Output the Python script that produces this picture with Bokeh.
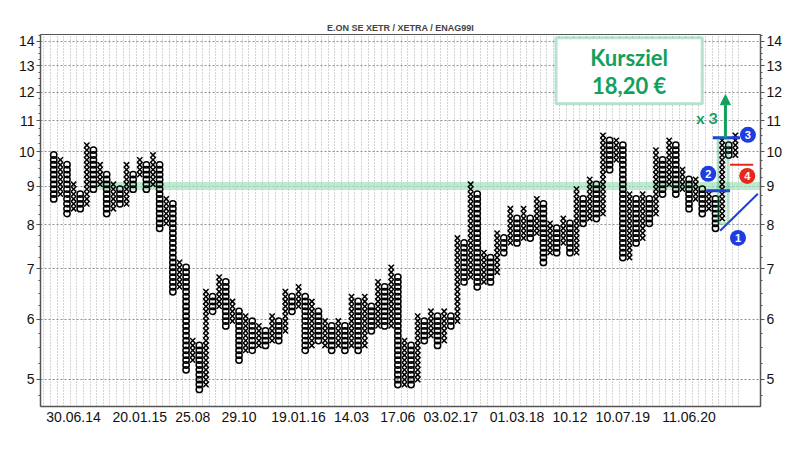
import math
from bokeh.plotting import figure
from bokeh.models import (Range1d, FixedTicker, LogAxis, BasicTickFormatter,
                          BoxAnnotation, Label, Arrow, NormalHead)
from bokeh.core.properties import value
from bokeh.embed import file_html
from bokeh.resources import INLINE

# point & figure columns (box 1.5 %)
col_kind = ["O", "X"] * 52
col_high = [9.93, 9.76, 9.58, 9.01, 8.83, 10.18, 10.03, 9.58, 9.34, 9.00,
            8.97, 9.58, 9.34, 9.76, 9.61, 9.83, 9.63, 8.70, 8.48, 7.14,
            6.99, 5.62, 5.51, 6.54, 6.41, 6.81, 6.68, 6.29, 6.19, 6.03,
            5.94, 5.85, 5.77, 6.06, 5.94, 6.57, 6.45, 6.59, 6.41, 6.30,
            6.19, 5.97, 5.85, 5.97, 5.85, 6.45, 6.31, 6.45, 6.22, 6.71,
            6.58, 6.99, 6.85, 5.59, 5.51, 6.06, 5.97, 6.19, 6.06, 6.19,
            6.06, 7.70, 7.55, 9.07, 8.83, 7.39, 7.24, 7.86, 7.70, 8.35,
            8.18, 8.35, 8.18, 8.70, 8.53, 8.06, 7.90, 8.18, 8.00, 8.88,
            8.70, 9.20, 9.00, 10.55, 10.34, 10.39, 10.18, 8.79, 8.61, 8.74,
            8.61, 9.98, 9.78, 10.39, 10.18, 9.44, 9.25, 9.15, 8.97, 8.74,
            8.66, 10.34, 10.20, 10.55]
col_low = [8.61, 8.74, 8.27, 8.40, 8.46, 8.53, 8.93, 9.10, 8.27, 8.44,
           8.50, 8.58, 8.97, 9.30, 8.93, 9.06, 7.94, 8.06, 6.49, 6.61,
           5.13, 5.29, 4.83, 4.90, 6.13, 6.25, 5.88, 5.97, 5.32, 5.44,
           5.42, 5.56, 5.55, 5.65, 5.65, 5.77, 6.16, 6.21, 5.44, 5.53,
           5.63, 5.53, 5.42, 5.57, 5.42, 5.53, 5.44, 5.50, 5.77, 5.85,
           5.88, 5.88, 4.92, 4.95, 4.92, 5.00, 5.63, 5.68, 5.53, 5.63,
           5.86, 5.95, 6.75, 6.81, 6.65, 6.75, 6.75, 6.90, 7.39, 7.55,
           7.62, 7.70, 7.74, 7.86, 7.17, 7.30, 7.39, 7.55, 7.33, 7.39,
           8.06, 8.20, 8.20, 8.30, 9.53, 9.73, 7.20, 7.28, 7.62, 7.73,
           8.06, 8.27, 8.79, 9.00, 8.83, 8.88, 8.44, 8.70, 8.27, 8.35,
           7.94, 8.10, 9.83, 9.95]
box_pct = 0.015

date_cols = [3, 13, 21, 28, 37, 45, 52, 60, 70, 78, 86, 96]
date_labels = ["30.06.14", "20.01.15", "25.08", "29.10", "19.01.16", "14.03",
               "17.06", "03.02.17", "01.03.18", "10.12", "10.07.19", "11.06.20"]
price_ticks = [5, 6, 7, 8, 9, 10, 11, 12, 13, 14]

# annotations
support_low, support_high, support_from = 8.90, 9.12, 6.75
target_text = ["Kursziel", "18,20 €"]
blue_y = [10.44, 8.88]
blue_x0 = [99.6, 98.6]
blue_x1 = [103.7, 102.2]
red_y, red_x0, red_x1 = 9.61, 102.2, 105.7
trend_x = [100.7, 106.4]
trend_y = [7.86, 8.80]
mark_x = [103.4, 98.9, 104.9, 104.8]
mark_y = [7.69, 9.35, 10.53, 9.29]
mark_txt = ["1", "2", "3", "4"]

GREEN = "#12a05c"
BLUE = "#1d3de0"
RED = "#e8261c"
FONT = "Liberation Sans"

step = math.log(1 + box_pct)
xx, xy, ox, oy = [], [], [], []
for i, (kind, hi, lo) in enumerate(zip(col_kind, col_high, col_low)):
    k0 = round(math.log(lo) / step)
    k1 = round(math.log(hi) / step)
    for k in range(k0, k1 + 1):
        if kind == "X":
            xx.append(i)
            xy.append(math.exp(k * step))
        else:
            ox.append(i)
            oy.append(math.exp(k * step))

p = figure(width=790, height=446, y_axis_type="log",
           x_range=Range1d(-2.0, 106.8), y_range=Range1d(4.60, 14.3),
           output_backend="svg", toolbar_location=None,
           min_border_left=40, min_border_right=30,
           min_border_top=34, min_border_bottom=40)

p.title.text = "E.ON SE XETR / XETRA / ENAG99I"
p.title.align = "center"
p.title.text_font = FONT
p.title.text_font_size = "9px"
p.title.offset = 8
p.title.standoff = 3

p.outline_line_color = "#555555"
p.background_fill_color = "white"
p.border_fill_color = "white"

# grids
p.xgrid.ticker = FixedTicker(ticks=[c - 0.5 for c in range(-1, 105)])
p.xgrid.grid_line_color = "#a8a8a8"
p.xgrid.grid_line_dash = "1 2"
p.ygrid.ticker = FixedTicker(ticks=price_ticks)
p.ygrid.grid_line_color = "#909090"
p.ygrid.grid_line_dash = "2 2"

minor = [t + q for t in range(4, 15) for q in (0.25, 0.5, 0.75)]
yticker = FixedTicker(ticks=price_ticks, minor_ticks=minor)

right = LogAxis()
p.add_layout(right, "right")
for ax in (p.yaxis[0], right):
    ax.ticker = yticker
    ax.formatter = BasicTickFormatter()
    ax.major_label_text_font = FONT
    ax.major_label_text_font_size = "14px"
    ax.major_label_text_color = "#111111"
    ax.axis_line_color = "#555555"
    ax.axis_line_width = 1.5
    ax.major_tick_line_color = "#555555"
    ax.minor_tick_line_color = "#555555"
    ax.major_tick_out = 4
    ax.major_tick_in = 0
    ax.minor_tick_out = 2
    ax.minor_tick_in = 0
    ax.major_label_standoff = 2

p.xaxis.ticker = FixedTicker(ticks=date_cols)
p.xaxis.major_label_overrides = dict(zip(date_cols, date_labels))
p.xaxis.major_label_text_font = FONT
p.xaxis.major_label_text_font_size = "14px"
p.xaxis.major_label_text_color = "#111111"
p.xaxis.axis_line_color = "#555555"
p.xaxis.axis_line_width = 1.5
p.xaxis.major_tick_out = 0
p.xaxis.major_tick_in = 0
p.xaxis.minor_tick_line_color = None
p.xaxis.major_label_standoff = 5

# support band
p.add_layout(BoxAnnotation(left=support_from, bottom=support_low, top=support_high,
                           fill_color="#9fe2bc", fill_alpha=0.7, line_alpha=0,
                           level="underlay"))

p.scatter(xx, xy, marker="x", size=7.5, line_color="black", line_width=1.5)
p.scatter(ox, oy, marker="circle", size=6.3, fill_color=None,
          line_color="black", line_width=1.5)

# target box
p.add_layout(BoxAnnotation(left=75.9, right=98.0, bottom=11.58, top=14.16,
                           fill_color="white", fill_alpha=1.0,
                           line_color=GREEN, line_width=3))
for txt, ty in zip(target_text, [13.32, 12.23]):
    p.add_layout(Label(x=86.95, y=ty, text=txt, text_align="center",
                       text_baseline="middle", text_color=GREEN,
                       text_font="Lato", text_font_style="bold",
                       text_font_size="22px"))

# vertical count column
p.add_layout(BoxAnnotation(left=100.4, right=101.9, bottom=8.03, top=10.44,
                           fill_alpha=0, line_color=GREEN, line_width=3))
p.add_layout(Arrow(end=NormalHead(size=10, fill_color=GREEN, line_color=GREEN),
                   x_start=101.5, y_start=10.44, x_end=101.5, y_end=11.9,
                   line_color=GREEN, line_width=3))
p.add_layout(Label(x=98.7, y=11.09, text="x 3", text_align="center",
                   text_baseline="middle", text_color=GREEN,
                   text_font="Lato", text_font_style="bold",
                   text_font_size="16px"))

p.segment(x0=blue_x0, x1=blue_x1, y0=blue_y, y1=blue_y,
          line_color=BLUE, line_width=3)
p.segment(x0=[red_x0], x1=[red_x1], y0=[red_y], y1=[red_y],
          line_color=RED, line_width=2)
p.line(trend_x, trend_y, line_color=BLUE, line_width=2)

p.scatter(mark_x, mark_y, size=16, fill_color=[BLUE, BLUE, BLUE, RED],
          line_color=None)
p.text(mark_x, mark_y, text=mark_txt, text_align="center",
       text_baseline="middle", text_color="white",
       text_font=value("Liberation Sans"), text_font_style="bold",
       text_font_size="11px")

open("out.html", "w").write(file_html(p, INLINE))
